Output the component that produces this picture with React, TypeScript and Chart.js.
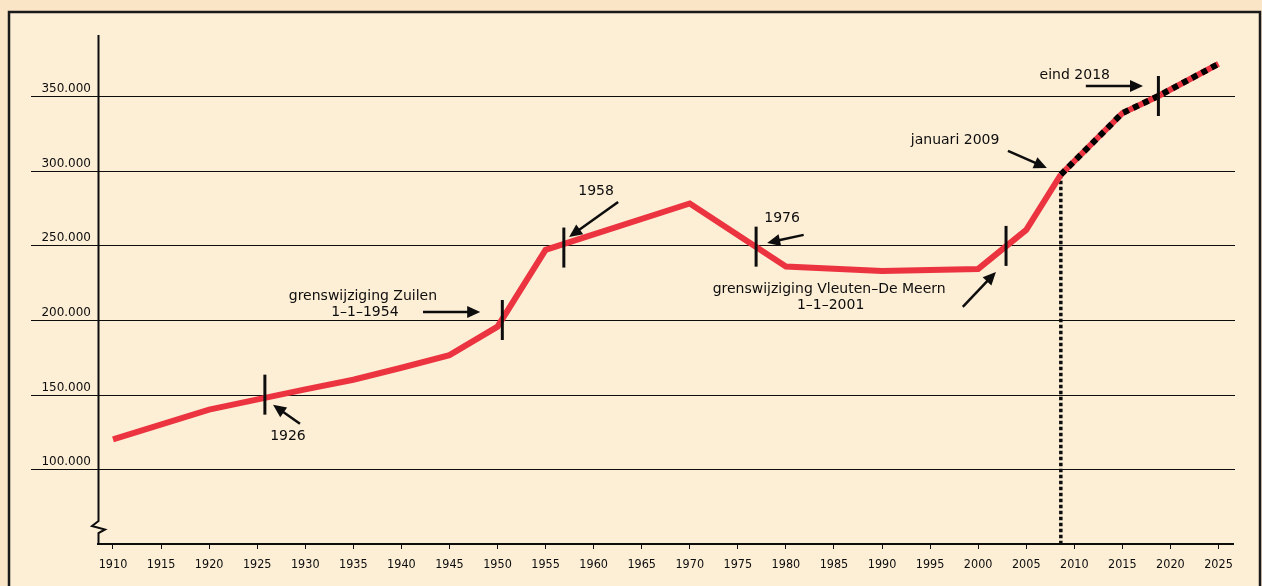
import React, { useEffect, useRef } from "react";
import { Chart, registerables } from "chart.js";

Chart.register(...registerables);

// ---- data ----
const histYears = [1910, 1920, 1930, 1935, 1940, 1945, 1950, 1955, 1970, 1980, 1990, 2000, 2005, 2008.6];
const histValues = [120000, 140000, 153500, 160000, 168000, 176500, 195500, 247000, 278000, 235800, 232800, 234200, 260300, 297300];
const projYears = [2008.6, 2015, 2018.75, 2025];
const projValues = [297300, 338500, 350000, 371500];

const xTickYears = [1910, 1915, 1920, 1925, 1930, 1935, 1940, 1945, 1950, 1955, 1960, 1965, 1970, 1975, 1980, 1985, 1990, 1995, 2000, 2005, 2010, 2015, 2020, 2025];
const xTickLabels = ["1910", "1915", "1920", "1925", "1930", "1935", "1940", "1945", "1950", "1955", "1960", "1965", "1970", "1975", "1980", "1985", "1990", "1995", "2000", "2005", "2010", "2015", "2020", "2025"];
const yTickValues = [100000, 150000, 200000, 250000, 300000, 350000];
const yTickLabels = ["100.000", "150.000", "200.000", "250.000", "300.000", "350.000"];

const markerYears = [1925.8, 1950.5, 1956.9, 1976.9, 2002.9, 2018.75];
const markerValues = [150000, 200000, 248500, 249100, 249600, 350000];

const noteTexts = ["1926", "grenswijziging Zuilen", "1–1–1954", "1958", "1976", "grenswijziging Vleuten–De Meern", "1–1–2001", "januari 2009", "eind 2018"];
const noteYears = [1928.2, 1936.0, 1936.2, 1960.25, 1979.6, 1984.5, 1984.65, 1997.6, 2010.05];
const noteValues = [122400, 216100, 205400, 286400, 268000, 220800, 210100, 320500, 364000];

const arrowFromYears = [1929.45, 1942.25, 1962.55, 1981.85, 1998.4, 2003.1, 2011.2];
const arrowFromValues = [130500, 205400, 279000, 257000, 208800, 313200, 356700];
const arrowToYears = [1926.65, 1948.2, 1957.45, 1978.05, 2001.85, 2007.15, 2017.15];
const arrowToValues = [143200, 205400, 255600, 251600, 232200, 301800, 356700];

const RED = "#ec3440";
const INK = "#0d0d0d";

const toXY = (xs: number[], ys: number[]) => xs.map((x, i) => ({ x, y: ys[i] }));

const decorPlugin = {
  id: "decor",
  beforeDraw(chart: any) {
    const { ctx, width, height, chartArea, scales } = chart;
    ctx.save();
    ctx.fillStyle = "#fbe5c7";
    ctx.fillRect(0, 0, width, height);
    ctx.fillStyle = "#fdeed6";
    ctx.fillRect(9, 12, 1251, height);
    ctx.strokeStyle = "#1a1a1a";
    ctx.lineWidth = 2.5;
    ctx.strokeRect(9, 12, 1251, height + 10);
    // grid lines extending left past the axis
    const y = scales.y;
    ctx.strokeStyle = INK;
    ctx.lineWidth = 1;
    yTickValues.forEach((v) => {
      const py = Math.round(y.getPixelForValue(v)) + 0.5;
      ctx.beginPath();
      ctx.moveTo(31, py);
      ctx.lineTo(chartArea.right + 2, py);
      ctx.stroke();
    });
    // y axis line with break symbol
    const ax = chartArea.left + 0.5;
    const b = chartArea.bottom;
    ctx.lineWidth = 2;
    ctx.lineJoin = "miter";
    ctx.beginPath();
    ctx.moveTo(ax, chartArea.top);
    ctx.lineTo(ax, b - 23);
    ctx.lineTo(ax - 6.5, b - 18);
    ctx.lineTo(ax + 6.5, b - 14.5);
    ctx.lineTo(ax, b - 11);
    ctx.lineTo(ax, b);
    ctx.stroke();
    ctx.restore();
  },
  afterDatasetsDraw(chart: any) {
    const { ctx, scales } = chart;
    const xs = scales.x;
    const ys = scales.y;
    ctx.save();
    // vertical markers
    ctx.strokeStyle = INK;
    ctx.lineWidth = 3;
    markerYears.forEach((yr, i) => {
      const px = xs.getPixelForValue(yr);
      const py = ys.getPixelForValue(markerValues[i]);
      ctx.beginPath();
      ctx.moveTo(px, py - 20);
      ctx.lineTo(px, py + 20);
      ctx.stroke();
    });
    // arrows
    ctx.fillStyle = INK;
    arrowFromYears.forEach((yr, i) => {
      const x0 = xs.getPixelForValue(yr);
      const y0 = ys.getPixelForValue(arrowFromValues[i]);
      const x1 = xs.getPixelForValue(arrowToYears[i]);
      const y1 = ys.getPixelForValue(arrowToValues[i]);
      const ang = Math.atan2(y1 - y0, x1 - x0);
      const hl = 13;
      const hw = 6;
      const bx = x1 - Math.cos(ang) * hl;
      const by = y1 - Math.sin(ang) * hl;
      ctx.lineWidth = 2.5;
      ctx.beginPath();
      ctx.moveTo(x0, y0);
      ctx.lineTo(bx + Math.cos(ang) * 1, by + Math.sin(ang) * 1);
      ctx.stroke();
      ctx.beginPath();
      ctx.moveTo(x1, y1);
      ctx.lineTo(bx - Math.sin(ang) * hw, by + Math.cos(ang) * hw);
      ctx.lineTo(bx + Math.sin(ang) * hw, by - Math.cos(ang) * hw);
      ctx.closePath();
      ctx.fill();
    });
    // texts
    ctx.font = "14px 'DejaVu Sans'";
    ctx.textAlign = "center";
    ctx.textBaseline = "middle";
    noteTexts.forEach((t, i) => {
      ctx.fillText(t, xs.getPixelForValue(noteYears[i]), ys.getPixelForValue(noteValues[i]));
    });
    ctx.restore();
  },
};

export default function App() {
  const ref = useRef<HTMLCanvasElement>(null);
  useEffect(() => {
    if (!ref.current) return;
    const chart = new Chart(ref.current, {
      type: "line",
      data: {
        datasets: [
          {
            data: toXY([histYears[histYears.length - 1], histYears[histYears.length - 1]], [histValues[histValues.length - 1], 50000]),
            borderColor: INK,
            borderWidth: 3.5,
            borderDash: [3.5, 2.5],
            borderCapStyle: "butt",
            pointRadius: 0,
            order: 3,
          },
          {
            data: toXY(histYears, histValues),
            borderColor: RED,
            borderWidth: 6,
            pointRadius: 0,
            tension: 0,
            borderJoinStyle: "miter",
            order: 2,
          },
          {
            data: toXY(projYears, projValues),
            borderColor: RED,
            borderWidth: 6,
            pointRadius: 0,
            tension: 0,
            borderJoinStyle: "miter",
            order: 1,
          },
          {
            data: toXY(projYears, projValues),
            borderColor: "#000000",
            borderWidth: 6,
            borderDash: [6, 5],
            pointRadius: 0,
            tension: 0,
            order: 0,
          },
        ],
      },
      options: {
        responsive: false,
        animation: false,
        devicePixelRatio: 1,
        layout: { padding: { top: 35, right: 29, left: 0, bottom: 0 } },
        plugins: { legend: { display: false }, tooltip: { enabled: false } },
        scales: {
          x: {
            type: "linear",
            min: 1908.44,
            max: 2026.51,
            afterBuildTicks: (s: any) => {
              s.ticks = xTickYears.map((v) => ({ value: v }));
            },
            afterFit: (s: any) => {
              s.height = 42;
            },
            ticks: {
              autoSkip: false,
              maxRotation: 0,
              padding: 8,
              color: INK,
              font: { family: "'DejaVu Sans Condensed'", size: 12.5 },
              callback: (v: any) => {
                const i = xTickYears.indexOf(Number(v));
                return i >= 0 ? xTickLabels[i] : "";
              },
            },
            grid: { drawOnChartArea: false, drawTicks: true, tickLength: 5, color: INK, lineWidth: 1 },
            border: { display: true, color: INK, width: 2 },
          },
          y: {
            type: "linear",
            min: 50000,
            max: 390830,
            afterBuildTicks: (s: any) => {
              s.ticks = yTickValues.map((v) => ({ value: v }));
            },
            afterFit: (s: any) => {
              s.width = 98;
            },
            ticks: {
              padding: 7,
              labelOffset: -7,
              color: INK,
              font: { family: "'DejaVu Sans'", size: 12 },
              callback: (v: any) => {
                const i = yTickValues.indexOf(Number(v));
                return i >= 0 ? yTickLabels[i] : "";
              },
            },
            grid: { display: false, drawTicks: false },
            border: { display: false },
          },
        },
      },
      plugins: [decorPlugin],
    });
    return () => chart.destroy();
  }, []);
  return (
    <div style={{ position: "absolute", left: 0, top: 0, width: 1262, height: 586 }}>
      <canvas ref={ref} width={1262} height={586} style={{ display: "block", width: 1262, height: 586 }} />
    </div>
  );
}
